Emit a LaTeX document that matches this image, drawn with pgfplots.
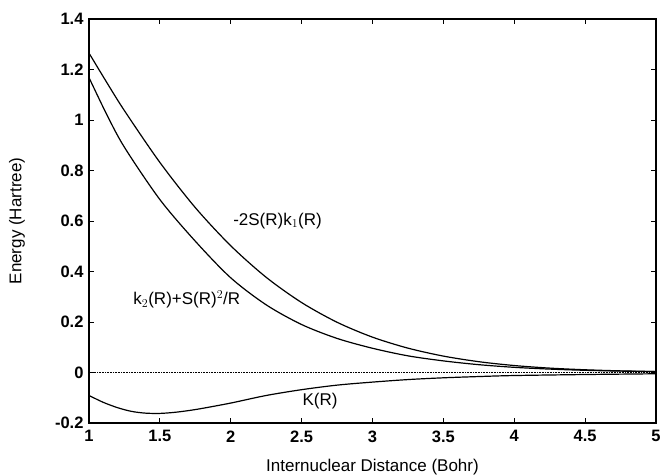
\documentclass[border=0pt]{standalone}
\usepackage{fontspec}
\setmainfont{Liberation Sans}
\usepackage{pgfplots}
\pgfplotsset{compat=1.18}

\begin{document}
\begin{tikzpicture}[x=1pt,y=1pt]
\useasboundingbox (-89,-52) rectangle (572,423);
\begin{axis}[
    at={(0,0)}, anchor=south west,
    scale only axis,
    width=567pt, height=404pt,
    xmin=1, xmax=5, ymin=-0.2, ymax=1.4,
    xtick={1,1.5,...,5}, ytick={-0.2,0,...,1.4},
    tick pos=both, tick align=inside,
    major tick length=5pt,
    axis line style={line width=1.3pt},
    tick style={line width=1pt, black},
    font=\fontsize{17}{19}\selectfont,
    /pgf/number format/assume math mode=true,
    /pgf/number format/fixed,
    every tick label/.append style={font=\fontsize{16.5}{19}\selectfont\bfseries},
    xticklabel style={yshift=-4pt},
    yticklabel style={xshift=-2pt},
    xlabel={Internuclear Distance (Bohr)},
    ylabel={Energy (Hartree)},
    every axis x label/.style={at={(axis description cs:0.5,0)}, anchor=center, yshift=-44pt},
    every axis y label/.style={at={(axis description cs:0,0.5)}, anchor=center, rotate=90, yshift=72pt},
]
\addplot[black, densely dotted, line width=0.6pt] coordinates {(1,0) (5,0)};

% -2S(R)k1(R)
\addplot[black, line width=1.2pt, smooth] coordinates {
(1.0,1.265) (1.125,1.149) (1.25,1.037) (1.5,0.832) (1.75,0.653) (2.0,0.502)
(2.25,0.377) (2.5,0.277) (2.75,0.199) (3.0,0.140) (3.25,0.0965) (3.5,0.065)
(3.75,0.0428) (4.0,0.0276) (4.25,0.0174) (4.5,0.0108) (4.75,0.0065) (5.0,0.0038)
};

% k2(R)+S(R)^2/R
\addplot[black, line width=1.2pt, smooth] coordinates {
(1.0,1.168) (1.125,1.022) (1.25,0.892) (1.5,0.685) (1.75,0.52) (2.0,0.375)
(2.25,0.268) (2.5,0.19) (2.75,0.135) (3.0,0.096) (3.25,0.066) (3.5,0.046)
(3.75,0.031) (4.0,0.0205) (4.25,0.0135) (4.5,0.0087) (4.75,0.0055) (5.0,0.0035)
};

% K(R)
\addplot[black, line width=1.2pt, smooth] coordinates {
(1.0,-0.091) (1.1,-0.118) (1.2,-0.139) (1.3,-0.154) (1.4,-0.161) (1.5,-0.162)
(1.6,-0.158) (1.7,-0.151) (1.8,-0.142) (2.0,-0.121) (2.25,-0.091) (2.5,-0.068)
(2.75,-0.05) (3.0,-0.038) (3.25,-0.028) (3.5,-0.021) (3.75,-0.016) (4.0,-0.012)
(4.5,-0.008) (5.0,-0.005)
};

\node at (axis cs:2.33,0.60) {-2S(R)k$_{1}$(R)};
\node at (axis cs:1.69,0.29) {k$_{2}$(R)+S(R)$^{2}$/R};
\node at (axis cs:2.63,-0.113) {K(R)};
\end{axis}
\end{tikzpicture}
\end{document}
